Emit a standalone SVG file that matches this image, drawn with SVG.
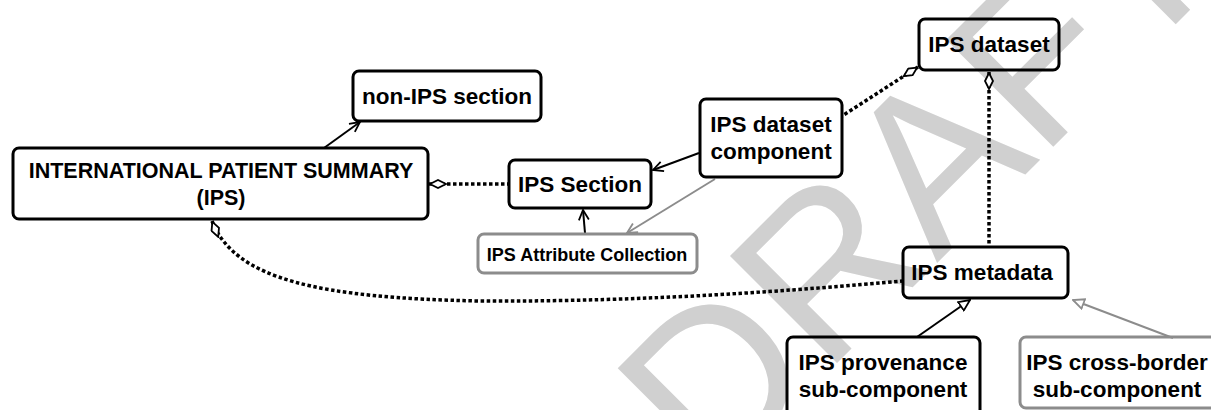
<svg xmlns="http://www.w3.org/2000/svg" width="1211" height="410" viewBox="0 0 1211 410">
<style>
.box{fill:none;stroke:#000;stroke-width:3}
.gbox{fill:none;stroke:#8c8c8c;stroke-width:3}
.t{font-family:"Liberation Sans",Arial,sans-serif;font-weight:bold;font-size:22.5px;fill:#000;text-anchor:middle}
.ts{font-size:18px}
.solid{fill:none;stroke:#000;stroke-width:2}
.gray{fill:none;stroke:#8c8c8c;stroke-width:2}
.dot{fill:none;stroke:#000;stroke-width:3.5;stroke-dasharray:3.5 2.5}
.wm{font-family:"Liberation Sans",Arial,sans-serif;font-size:220px;fill:#d0d0d0}
</style>
<defs>
<marker id="arrow" viewBox="0 0 12 12" refX="11" refY="6" markerWidth="12" markerHeight="12" orient="auto" markerUnits="userSpaceOnUse"><path d="M1,1 L11,6 L1,11" fill="none" stroke="#000" stroke-width="1.8"/></marker>
<marker id="garrow" viewBox="0 0 12 12" refX="11" refY="6" markerWidth="12" markerHeight="12" orient="auto" markerUnits="userSpaceOnUse"><path d="M1,1 L11,6 L1,11" fill="none" stroke="#8c8c8c" stroke-width="1.8"/></marker>
<marker id="diamond" viewBox="0 0 18 10" refX="0" refY="5" markerWidth="18" markerHeight="10" orient="auto" markerUnits="userSpaceOnUse"><path d="M1,5 L9,1 L17,5 L9,9 Z" fill="#fff" stroke="#000" stroke-width="1.8"/></marker>
<marker id="tri" viewBox="0 0 13 12" refX="12" refY="6" markerWidth="13" markerHeight="12" orient="auto" markerUnits="userSpaceOnUse"><path d="M1,1 L12,6 L1,11 Z" fill="#fff" stroke="#000" stroke-width="1.8"/></marker>
<marker id="gtri" viewBox="0 0 13 12" refX="12" refY="6" markerWidth="13" markerHeight="12" orient="auto" markerUnits="userSpaceOnUse"><path d="M1,1 L12,6 L1,11 Z" fill="#fff" stroke="#8c8c8c" stroke-width="1.8"/></marker>
</defs>
<rect width="1211" height="410" fill="#fff"/>
<text class="wm" transform="translate(712,488) rotate(-45)">DRAFT</text>

<g id="connectors">
<path class="solid" d="M324,148 L360,122" marker-end="url(#arrow)"/>
<path class="dot" d="M429,184 L508,184" marker-start="url(#diamond)"/>
<path class="solid" d="M699,153 L653,170" marker-end="url(#arrow)"/>
<path class="gray" d="M715,179 L627,233" marker-end="url(#garrow)"/>
<path class="solid" d="M585,233 L583,210" marker-end="url(#arrow)"/>
<path class="dot" d="M918,67 L842,116" marker-start="url(#diamond)"/>
<path class="dot" d="M989,72 L989,247" marker-start="url(#diamond)"/>
<path class="dot" d="M212,221 C235,280 320,298 480,301 C650,302 800,290 903,281" marker-start="url(#diamond)"/>
<path class="solid" d="M917,337 L970,300" marker-end="url(#tri)"/>
<path class="gray" d="M1173,338 L1073,300" marker-end="url(#gtri)"/>
</g>

<g id="non-ips-section">
<rect class="box" x="353" y="71" width="188" height="50" rx="6"/>
<text class="t" x="447" y="104">non-IPS section</text>
</g>
<g id="ips">
<rect class="box" x="13" y="148" width="415" height="71" rx="6"/>
<text class="t" x="221" y="178" style="font-size:21.5px">INTERNATIONAL PATIENT SUMMARY</text>
<text class="t" x="221" y="205" style="font-size:21.5px">(IPS)</text>
</g>
<g id="ips-section">
<rect class="box" x="509" y="160" width="142" height="48" rx="6"/>
<text class="t" x="580" y="192">IPS Section</text>
</g>
<g id="ips-dataset-component">
<rect class="box" x="700" y="99" width="142" height="78" rx="6"/>
<text class="t" x="771" y="132">IPS dataset</text>
<text class="t" x="771" y="159">component</text>
</g>
<g id="ips-dataset">
<rect class="box" x="919" y="19" width="140" height="51" rx="6"/>
<text class="t" x="989" y="52">IPS dataset</text>
</g>
<g id="ips-attribute-collection">
<rect class="gbox" x="478" y="234" width="219" height="39" rx="6"/>
<text class="t ts" x="587" y="261">IPS Attribute Collection</text>
</g>
<g id="ips-metadata">
<rect class="box" x="903" y="247" width="165" height="51" rx="6"/>
<text class="t" x="982" y="280">IPS metadata</text>
</g>
<g id="ips-provenance">
<rect class="box" x="787" y="337" width="193" height="80" rx="6"/>
<text class="t" x="883" y="370">IPS provenance</text>
<text class="t" x="883" y="397">sub-component</text>
</g>
<g id="ips-cross-border">
<rect class="gbox" x="1020" y="337" width="196" height="71" rx="6"/>
<text class="t" x="1117" y="370">IPS cross-border</text>
<text class="t" x="1117" y="397">sub-component</text>
</g>
</svg>
